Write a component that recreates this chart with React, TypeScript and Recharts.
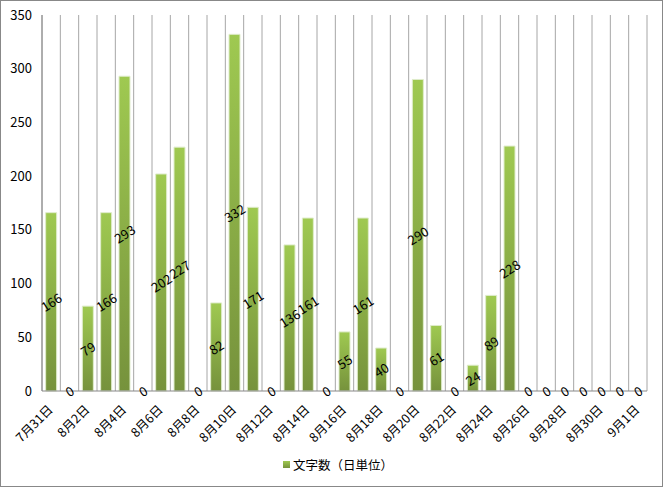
import React from "react";
import { ComposedChart, Bar, Line, XAxis, YAxis, CartesianGrid, Legend, LabelList } from "recharts";

const days = [
  "7月31日", "8月1日", "8月2日", "8月3日", "8月4日", "8月5日", "8月6日", "8月7日",
  "8月8日", "8月9日", "8月10日", "8月11日", "8月12日", "8月13日", "8月14日", "8月15日",
  "8月16日", "8月17日", "8月18日", "8月19日", "8月20日", "8月21日", "8月22日", "8月23日",
  "8月24日", "8月25日", "8月26日", "8月27日", "8月28日", "8月29日", "8月30日", "8月31日",
  "9月1日",
];

const charCounts = [
  166, 0, 79, 166, 293, 0, 202, 227,
  0, 82, 332, 171, 0, 136, 161, 0,
  55, 161, 40, 0, 290, 61, 0, 24,
  89, 228, 0, 0, 0, 0, 0, 0,
  0,
];

const yTicks = [0, 50, 100, 150, 200, 250, 300, 350];

const seriesName = "文字数（日単位）";

const data = days.map((day, i) => ({ day, count: charCounts[i] }));

const FONT = "'Noto Sans CJK JP', 'Noto Sans', sans-serif";

// label sits at the bar's middle, tilted like the Excel original
function MidLabel(props: any) {
  const vb = props.viewBox || props;
  const cx = (vb.x ?? props.x) + (vb.width || 0) / 2;
  const cy = (vb.y ?? props.y) + (vb.height || 0) / 2;
  return (
    <text
      x={cx}
      y={cy}
      transform={`rotate(-32, ${cx}, ${cy})`}
      textAnchor="middle"
      dominantBaseline="central"
      fontSize={13}
      fontFamily={FONT}
      fill="#000"
    >
      {props.value}
    </text>
  );
}

// date label: its upper end sits just under the category
function DateTick(props: any) {
  const { x, y, payload } = props;
  const ax = x - 6;
  const ay = y + 3;
  return (
    <text
      x={ax}
      y={ay}
      transform={`rotate(-45, ${ax}, ${ay})`}
      textAnchor="end"
      dominantBaseline="hanging"
      fontSize={12.5}
      fontFamily={FONT}
      fill="#000"
    >
      {payload.value}
    </text>
  );
}

// only the bar series goes in the legend
function LegendBox() {
  return (
    <div
      style={{
        display: "flex",
        justifyContent: "center",
        alignItems: "center",
        fontSize: 12.5,
        fontFamily: FONT,
        color: "#000",
        paddingLeft: 28,
      }}
    >
      <span
        style={{
          display: "inline-block",
          width: 7,
          height: 7,
          marginRight: 3,
          background: "linear-gradient(#9fc951, #76923c)",
        }}
      />
      {seriesName}
    </div>
  );
}

export default function App() {
  return (
    <div
      style={{
        position: "fixed",
        left: 0,
        top: 0,
        width: 663,
        height: 487,
        boxSizing: "border-box",
        border: "1px solid #888",
        background: "#fff",
      }}
    >
      <ComposedChart
        width={661}
        height={485}
        data={data}
        margin={{ top: 14, right: 15, bottom: 9, left: 0 }}
        barCategoryGap="20%"
      >
        <defs>
          <linearGradient id="greenBar" x1="0" y1="0" x2="0" y2="1">
            <stop offset="0%" stopColor="#9fc951" />
            <stop offset="100%" stopColor="#76923c" />
          </linearGradient>
        </defs>
        <CartesianGrid
          horizontal={false}
          stroke="#a6a6a6"
          verticalCoordinatesGenerator={({ offset }: any) =>
            days.map((_, i) => offset.left + (i * offset.width) / days.length).concat(offset.left + offset.width)
          }
        />
        <XAxis
          dataKey="day"
          interval={1}
          tickLine={false}
          axisLine={{ stroke: "#888" }}
          height={64}
          tick={DateTick}
        />
        <YAxis
          domain={[0, 350]}
          ticks={yTicks}
          width={41}
          tickLine={false}
          axisLine={{ stroke: "#888" }}
          tick={{ fontSize: 13, fontFamily: FONT, fill: "#000" }}
          tickMargin={4}
        />
        <Legend verticalAlign="bottom" height={22} content={LegendBox} />
        <Bar
          dataKey="count"
          name={seriesName}
          fill="url(#greenBar)"
          stroke="#dfeccb"
          strokeWidth={1}
          isAnimationActive={false}
        />
        <Line
          dataKey={(d: any) => d.count / 2}
          name="labels"
          legendType="none"
          stroke="none"
          dot={false}
          activeDot={false}
          isAnimationActive={false}
        >
          <LabelList dataKey="count" content={MidLabel} />
        </Line>
      </ComposedChart>
    </div>
  );
}
